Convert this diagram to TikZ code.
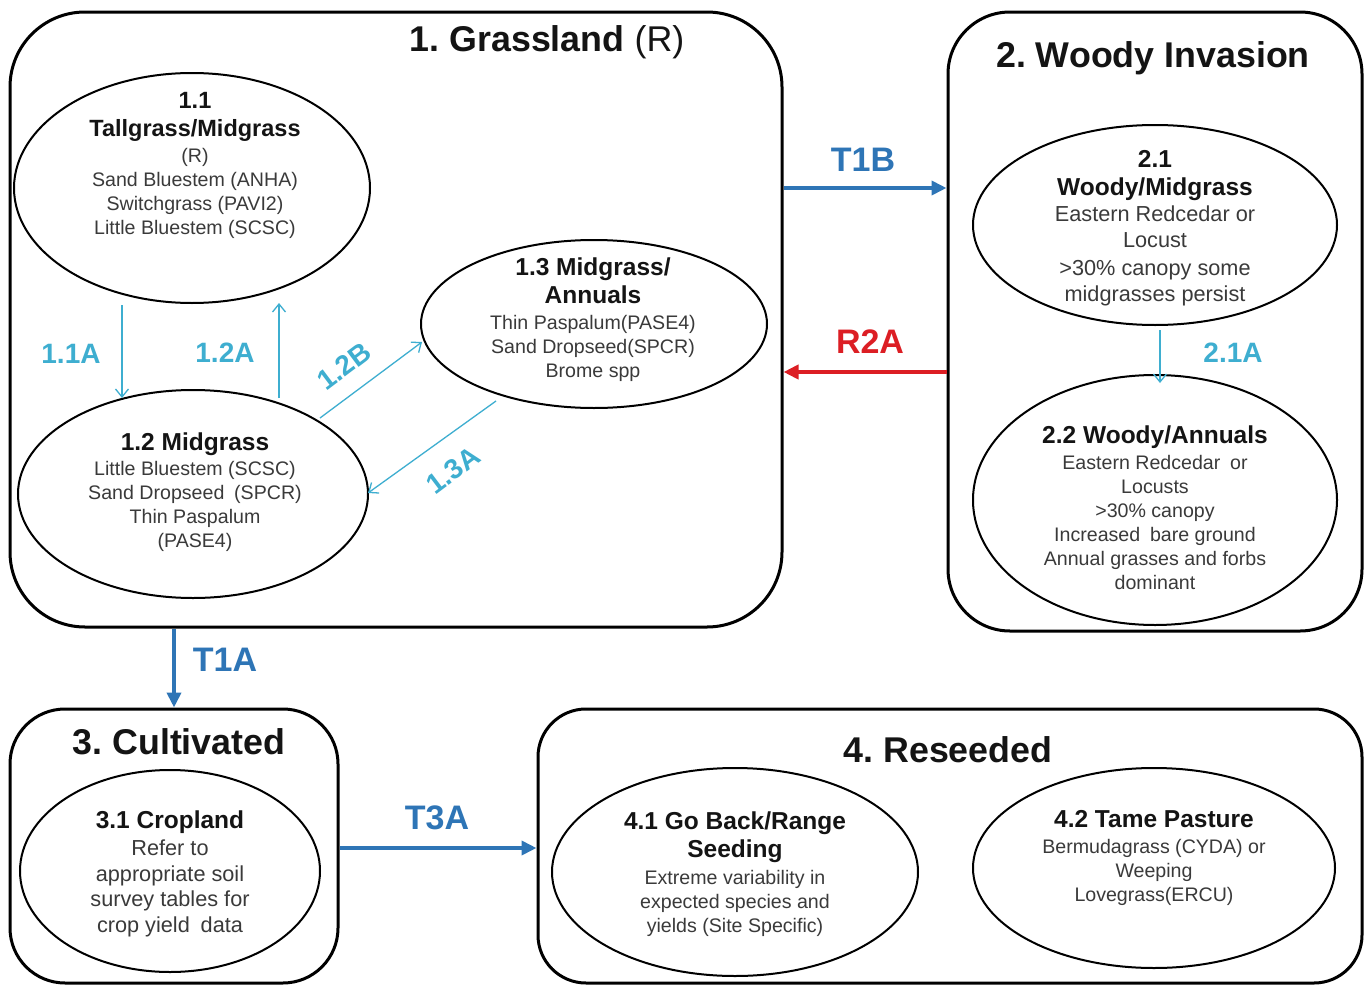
\documentclass[tikz,border=0pt]{standalone}
\usepackage{fontspec}
\setmainfont{Liberation Sans}
\usetikzlibrary{arrows.meta,calc,shapes.geometric}
\definecolor{tblue}{RGB}{46,117,182}
\definecolor{tcyan}{RGB}{62,174,208}
\definecolor{tred}{RGB}{220,30,36}
\definecolor{tgray}{RGB}{58,58,58}
\newcommand\ttlA[1]{{\fontsize{23.5}{28}\selectfont\bfseries\color{black!92}#1}}
\newcommand\ttlB[1]{{\fontsize{24.5}{28}\selectfont\bfseries\color{black!92}#1}}
\frenchspacing
\begin{document}
\begin{tikzpicture}[x=1pt,y=-1pt,
  sbox/.style={draw=black, line width=3pt, rounded corners=#1, inner sep=0pt},
  ell/.style={draw=black, line width=2pt, ellipse, inner sep=0pt},
  btitle/.style={inner sep=0pt, font=\fontsize{35.8}{40}\selectfont, text=black!92},
  txt/.style={align=center, inner sep=0pt, text=tgray, font=\fontsize{19.6}{24}\selectfont},
  txtb/.style={align=center, inner sep=0pt, text=tgray, font=\fontsize{21.7}{25.8}\selectfont},
  clab/.style={inner sep=0pt, text=tcyan, font=\fontsize{28}{30}\selectfont\bfseries},
  tlab/.style={inner sep=0pt, text=tblue, font=\fontsize{34}{36}\selectfont\bfseries},
  rlab/.style={inner sep=0pt, text=tred, font=\fontsize{34}{36}\selectfont\bfseries},
  carr/.style={draw=tcyan, line width=1.3pt, -{Straight Barb[length=8pt,width=13pt]}},
  tarr/.style={draw=tblue, line width=4pt, -{Triangle[length=15pt,width=14pt]}},
  rarr/.style={draw=tred, line width=4pt, -{Triangle[length=15pt,width=14pt]}}
]
\useasboundingbox (0,0) rectangle (1366,985);
\fill[white] (0,0) rectangle (1366,985);

% state boxes
\node[sbox=75pt, minimum width=772pt, minimum height=615pt] (b1) at (396,319.5) {};
\node[sbox=62pt, minimum width=414pt, minimum height=619pt] (b2) at (1155,321.5) {};
\node[sbox=55pt, minimum width=328pt, minimum height=274pt] (b3) at (174,846) {};
\node[sbox=48pt, minimum width=824pt, minimum height=274pt] (b4) at (950,846) {};

\node[btitle] (h1) at (547,42) {\textbf{1. Grassland} (R)};
\node[btitle] (h2) at (1153,58) {\textbf{2. Woody Invasion}};
\node[btitle] (h3) at (179,742) {\textbf{3. Cultivated}};
\node[btitle] (h4) at (948,750) {\textbf{4. Reseeded}};

% community ellipses
\node[ell, minimum width=356pt, minimum height=230pt] (e11) at (192,188) {};
\node[ell, minimum width=350pt, minimum height=208pt] (e12) at (193,494) {};
\node[ell, minimum width=346pt, minimum height=168pt] (e13) at (594,324) {};
\node[ell, minimum width=364pt, minimum height=200pt] (e21) at (1155,225) {};
\node[ell, minimum width=364pt, minimum height=250pt] (e22) at (1155,500) {};
\node[ell, minimum width=300pt, minimum height=202pt] (e31) at (170,871) {};
\node[ell, minimum width=366pt, minimum height=208pt] (e41) at (735,872) {};
\node[ell, minimum width=362pt, minimum height=200pt] (e42) at (1154,868) {};

% texts
\node[txt] (t11) at (195,165) {\ttlA{1.1}\\[4pt]\ttlA{Tallgrass/Midgrass}\\[2pt](R)\\Sand Bluestem (ANHA)\\Switchgrass (PAVI2)\\Little Bluestem (SCSC)};
\node[txt] (t12) at (195,492) {\ttlB{1.2 Midgrass}\\[1pt]Little Bluestem (SCSC)\\Sand Dropseed\enspace(SPCR)\\Thin Paspalum\\(PASE4)};
\node[txt] (t13) at (593,320) {\ttlB{1.3 Midgrass/}\\[4pt]\ttlB{Annuals}\\[2pt]Thin Paspalum(PASE4)\\Sand Dropseed(SPCR)\\Brome spp};
\node[txtb] (t21) at (1155,228) {\ttlB{2.1}\\[2pt]\ttlB{Woody/Midgrass}\\[1pt]Eastern Redcedar or\\Locust\\[2pt]>30\% canopy some\\midgrasses persist};
\node[txt] (t22) at (1155,508) {\ttlB{2.2 Woody/Annuals}\\[2pt]Eastern Redcedar\enspace or\\Locusts\\>30\% canopy\\Increased\enspace bare ground\\Annual grasses and forbs\\dominant};
\node[txtb] (t31) at (170,874) {\ttlB{3.1 Cropland}\\[1pt]Refer to\\appropriate soil\\survey tables for\\crop yield\enspace data};
\node[txt] (t41) at (735,874) {\ttlB{4.1 Go Back/Range}\\[4pt]\ttlB{Seeding}\\[3pt]Extreme variability in\\expected species and\\yields (Site Specific)};
\node[txt] (t42) at (1154,858) {\ttlB{4.2 Tame Pasture}\\[2pt]Bermudagrass (CYDA) or\\Weeping\\Lovegrass(ERCU)};

% community pathways
\draw[carr] ($(e11.center)+(-70,117)$) -- ($(e12.center)+(-71,-96)$);
\draw[carr] ($(e12.center)+(86,-96)$) -- ($(e11.center)+(87,115)$);
\draw[carr] ($(e12.center)+(127,-76)$) -- ($(e13.center)+(-172,18)$);
\draw[carr] ($(e13.center)+(-98,77)$) -- ($(e12.center)+(175,-1)$);
\draw[carr] ($(e21.center)+(5,105)$) -- ($(e22.center)+(5,-117)$);

\node[clab] (l11a) at (71,354) {1.1A};
\node[clab] (l12a) at (225,353) {1.2A};
\node[clab, rotate=37] (l12b) at (344,366) {1.2B};
\node[clab, rotate=37] (l13a) at (453,470) {1.3A};
\node[clab] (l21a) at (1233,353) {2.1A};

% transitions
\draw[tarr] ([yshift=131.5pt]b1.east) -- ([yshift=131.5pt]b1.east -| b2.west);
\draw[rarr] ([yshift=-50.5pt]b2.west) -- ([yshift=-50.5pt]b2.west -| b1.east);
\draw[tarr] (b1.south -| b3.north) -- (b3.north);
\draw[tarr] ([yshift=-2pt]b3.east) -- ([yshift=-2pt]b3.east -| b4.west);

\node[tlab] (lt1b) at (863,160) {T1B};
\node[rlab] (lr2a) at (870,342) {R2A};
\node[tlab] (lt1a) at (225,660) {T1A};
\node[tlab] (lt3a) at (437,818) {T3A};
\end{tikzpicture}
\end{document}
